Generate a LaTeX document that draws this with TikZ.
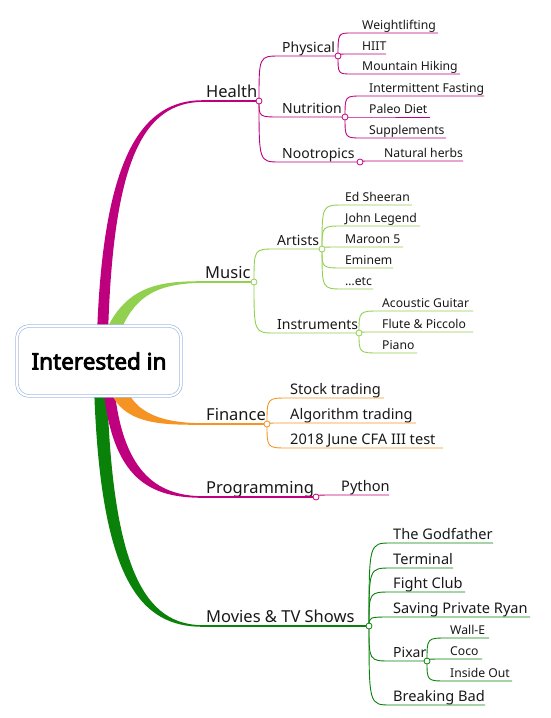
\documentclass[tikz,border=0pt]{standalone}
\usepackage{fontspec}
\setmainfont{Noto Sans}[AutoFakeBold=3.5]
\usetikzlibrary{calc}
\definecolor{mag}{RGB}{190,0,127}
\definecolor{lgreen}{RGB}{146,208,80}
\definecolor{orng}{RGB}{245,148,35}
\definecolor{dgreen}{RGB}{10,130,10}
\definecolor{boxblue}{RGB}{150,180,222}
\definecolor{txt}{RGB}{25,25,25}
\tikzset{
  lab/.style={inner sep=0pt, anchor=base west, text=txt},
  lone/.style={lab, font=\fontsize{16.5}{16.5}\selectfont},
  ltwo/.style={lab, font=\fontsize{14}{14}\selectfont},
  ltwob/.style={lab, font=\fontsize{14.6}{14.6}\selectfont},
  lthree/.style={lab, font=\fontsize{12.2}{12.2}\selectfont},
  sub/.style={line width=0.9pt},
  top/.style={line width=1.5pt},
  dot/.style={circle, draw=#1, fill=white, inner sep=0pt, minimum size=6pt, line width=0.8pt},
}
% #1 colour, #2 parent coordinate, #3 name, #4 font style, #5 start x, #6 text x, #7 y, #8 end x, #9 text
\newcommand\mmleaf[9]{%
  \coordinate (#3s) at (#5,#7);
  \coordinate (#3e) at (#8,#7);
  \node[#4] (#3) at (#6,#7-4) {#9};
  \draw[#1,sub] (#2) .. controls (#2 |- #3s) .. (#3s) -- (#3e);
}
\begin{document}
\begin{tikzpicture}[x=1pt,y=-1pt]
\useasboundingbox (0,0) rectangle (551,718);
\fill[white] (0,0) rectangle (551,718);

% ---------- trunks ----------
\fill[mag] (97,335) .. controls (103,160) and (140,100) .. (203,100.2)
  -- (203,101.8) .. controls (143,102.5) and (113,160) .. (108,335) -- cycle;
\fill[lgreen] (104,335) .. controls (125,285) and (160,281.2) .. (203,281.2)
  -- (203,282.8) .. controls (162,283.5) and (135,292) .. (119,335) -- cycle;
\fill[dgreen] (94,385) .. controls (100,580) and (140,627) .. (203,626.8)
  -- (203,625.2) .. controls (145,625) and (112,570) .. (107,385) -- cycle;
\fill[mag] (103,385) .. controls (112,480) and (150,497.8) .. (203,497.8)
  -- (203,496.2) .. controls (155,496) and (122,470) .. (114,385) -- cycle;
\fill[orng] (108,385) .. controls (120,425) and (160,424.8) .. (203,424.8)
  -- (203,423.2) .. controls (165,423) and (135,415) .. (125,385) -- cycle;

% ---------- root ----------
\node[draw=boxblue, line width=0.6pt, double=white, double distance=2.2pt,
  rounded corners=12pt, fill=white, minimum width=164pt, minimum height=70pt,
  font=\fontsize{22.5}{22.5}\selectfont\bfseries, text=black, inner sep=0pt]
  (root) at (99,361) {Interested in};

% ---------- Health ----------
\coordinate (hT) at (203,101);
\coordinate (hC) at (259,101);
\node[lone] (health) at (206,97) {Health};
\draw[mag,top] (hT) -- (hC);
\coordinate (pC) at (338,56);
\coordinate (nC) at (345,117);
\coordinate (oC) at (360,162);
\mmleaf{mag}{hC}{phys}{ltwo}{280}{282}{56}{338}{Physical}
\mmleaf{mag}{hC}{nutr}{ltwo}{280}{282}{117}{345}{Nutrition}
\mmleaf{mag}{hC}{noot}{ltwo}{280}{282}{162}{360}{Nootropics}
\mmleaf{mag}{pC}{wl}{lthree}{352}{362}{33}{438}{Weightlifting}
\mmleaf{mag}{pC}{hiit}{lthree}{352}{362}{54}{386}{HIIT}
\mmleaf{mag}{pC}{mh}{lthree}{352}{362}{74}{460}{Mountain Hiking}
\mmleaf{mag}{nC}{ifast}{lthree}{362}{369}{96}{484}{Intermittent Fasting}
\mmleaf{mag}{nC}{pd}{lthree}{362}{369}{117}{430}{Paleo Diet}
\mmleaf{mag}{nC}{sup}{lthree}{362}{369}{138}{446}{Supplements}
\mmleaf{mag}{oC}{nh}{lthree}{378}{384}{161}{463}{Natural herbs}

% ---------- Music ----------
\coordinate (mT) at (203,282);
\coordinate (mC) at (254,282);
\node[lone] (music) at (205,278) {Music};
\draw[lgreen,top] (mT) -- (mC);
\coordinate (aC) at (322,249);
\coordinate (iC) at (359,333);
\mmleaf{lgreen}{mC}{art}{ltwo}{275}{277}{249}{322}{Artists}
\mmleaf{lgreen}{mC}{ins}{ltwo}{275}{277}{333}{359}{Instruments}
\mmleaf{lgreen}{aC}{ed}{lthree}{343}{345}{205}{412}{Ed Sheeran}
\mmleaf{lgreen}{aC}{jl}{lthree}{343}{345}{226}{420}{John Legend}
\mmleaf{lgreen}{aC}{mf}{lthree}{343}{345}{247}{403}{Maroon 5}
\mmleaf{lgreen}{aC}{em}{lthree}{343}{345}{268}{393}{Eminem}
\mmleaf{lgreen}{aC}{etc}{lthree}{343}{345}{289}{373}{…etc}
\mmleaf{lgreen}{iC}{ag}{lthree}{380}{382}{311}{473}{Acoustic Guitar}
\mmleaf{lgreen}{iC}{fp}{lthree}{380}{382}{332}{473}{Flute \& Piccolo}
\mmleaf{lgreen}{iC}{pi}{lthree}{380}{382}{353}{417}{Piano}

% ---------- Finance ----------
\coordinate (fT) at (203,424);
\coordinate (fC) at (267,424);
\node[lone] (fin) at (206,420) {Finance};
\draw[orng,top] (fT) -- (fC);
\mmleaf{orng}{fC}{st}{ltwob}{288}{290}{398}{384}{Stock trading}
\mmleaf{orng}{fC}{alg}{ltwob}{288}{290}{423}{416}{Algorithm trading}
\mmleaf{orng}{fC}{cfa}{ltwob}{288}{290}{448}{443}{2018 June CFA III test}

% ---------- Programming ----------
\coordinate (prT) at (203,497);
\coordinate (prC) at (316,497);
\node[lone] (prog) at (206,493) {Programming};
\draw[mag,top] (prT) -- (prC);
\mmleaf{mag}{prC}{py}{ltwob}{338}{341}{495}{389}{Python}

% ---------- Movies ----------
\coordinate (mvT) at (203,626);
\coordinate (mvC) at (369,626);
\node[lone] (mov) at (206,622) {Movies \& TV Shows};
\draw[dgreen,top] (mvT) -- (mvC);
\coordinate (pxC) at (427,661);
\mmleaf{dgreen}{mvC}{gf}{ltwob}{391}{393}{543}{493}{The Godfather}
\mmleaf{dgreen}{mvC}{term}{ltwob}{391}{393}{568}{453}{Terminal}
\mmleaf{dgreen}{mvC}{fc}{ltwob}{391}{393}{592}{465}{Fight Club}
\mmleaf{dgreen}{mvC}{spr}{ltwob}{391}{393}{617}{530}{Saving Private Ryan}
\mmleaf{dgreen}{mvC}{px}{ltwo}{391}{393}{661}{427}{Pixar}
\mmleaf{dgreen}{mvC}{bb}{ltwob}{391}{393}{705}{485}{Breaking Bad}
\mmleaf{dgreen}{pxC}{we}{lthree}{447}{450}{638}{489}{Wall-E}
\mmleaf{dgreen}{pxC}{co}{lthree}{447}{450}{659}{482}{Coco}
\mmleaf{dgreen}{pxC}{io}{lthree}{447}{450}{681}{512}{Inside Out}

% ---------- junction dots ----------
\node[dot=mag] (hCd) at (hC) {};
\node[dot=mag] (pCd) at (pC) {};
\node[dot=mag] (nCd) at (nC) {};
\node[dot=mag] (oCd) at (oC) {};
\node[dot=lgreen] (mCd) at (mC) {};
\node[dot=lgreen] (aCd) at (aC) {};
\node[dot=lgreen] (iCd) at (iC) {};
\node[dot=orng] (fCd) at (fC) {};
\node[dot=mag] (prCd) at (prC) {};
\node[dot=dgreen] (mvCd) at (mvC) {};
\node[dot=dgreen] (pxCd) at (pxC) {};
\end{tikzpicture}
\end{document}
